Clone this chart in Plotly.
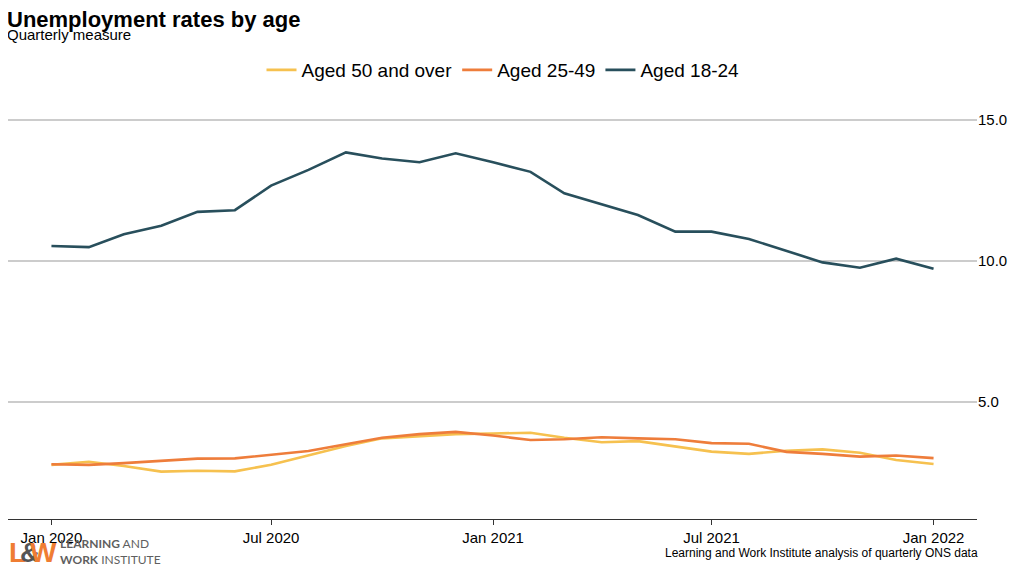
import plotly.graph_objects as go
import pandas as pd

months = pd.date_range("2020-01-01", "2022-01-01", freq="MS").strftime("%Y-%m-%d").tolist()

aged_50_over = [2.77, 2.88, 2.73, 2.53, 2.56, 2.54, 2.77, 3.10, 3.44, 3.71, 3.78, 3.86, 3.88,
                3.91, 3.73, 3.57, 3.61, 3.42, 3.24, 3.16, 3.27, 3.32, 3.20, 2.94, 2.80]
aged_25_49 = [2.79, 2.77, 2.83, 2.91, 2.99, 3.00, 3.14, 3.26, 3.50, 3.73, 3.86, 3.94, 3.81,
              3.65, 3.68, 3.75, 3.71, 3.68, 3.54, 3.52, 3.23, 3.16, 3.06, 3.10, 3.01]
aged_18_24 = [10.53, 10.49, 10.95, 11.25, 11.74, 11.80, 12.67, 13.23, 13.85, 13.63, 13.50, 13.82, 13.50,
              13.16, 12.40, 12.02, 11.63, 11.04, 11.04, 10.78, 10.37, 9.95, 9.76, 10.08, 9.72]

series = [("Aged 50 and over", aged_50_over, "#f6c14f"),
          ("Aged 25-49", aged_25_49, "#ee7d3b"),
          ("Aged 18-24", aged_18_24, "#284f5c")]

tick_vals = ["2020-01-01", "2020-07-01", "2021-01-01", "2021-07-01", "2022-01-01"]
tick_text = ["Jan 2020", "Jul 2020", "Jan 2021", "Jul 2021", "Jan 2022"]

fig = go.Figure()
for name, vals, col in series:
    fig.add_trace(go.Scatter(x=months, y=vals, name=name, mode="lines",
                             line=dict(color=col, width=2.6)))

font = "Liberation Sans, Arial, sans-serif"
fig.update_layout(
    width=1022, height=588,
    paper_bgcolor="white", plot_bgcolor="white",
    margin=dict(l=0, r=53, t=97, b=77),
    font=dict(family=font, color="#000000"),
    showlegend=True,
    legend=dict(orientation="h", x=(503 - 8) / 1022, xanchor="center", xref="container",
                y=1 - 62 / 588, yref="container", yanchor="middle",
                font=dict(size=19), itemwidth=30),
    xaxis=dict(type="date", range=["2019-11-26", "2022-02-06"], tickvals=tick_vals,
               ticktext=tick_text, showgrid=False, showline=True, linecolor="#333333",
               linewidth=1.2, ticks="outside", ticklen=5, tickcolor="#333333",
               tickfont=dict(size=15), zeroline=False),
    yaxis=dict(side="right", range=[0.85, 15.53], tickvals=[5, 10, 15], tickformat=".1f",
               showgrid=True, gridcolor="#cccccc", gridwidth=2, zeroline=False,
               showline=False, ticks="", tickfont=dict(size=15)),
)

H = 414.0  # plot height in px (screenshot coords 105..519)
def py(px):
    return (519 - px) / H

def pxx(px):
    return (px - 8) / 969.0

fig.add_annotation(text="<b>Unemployment rates by age</b>", xref="paper", yref="paper",
                   x=pxx(6), y=py(20), xanchor="left", yanchor="middle", showarrow=False,
                   borderpad=0, font=dict(size=22, family=font))
fig.add_annotation(text="Quarterly measure", xref="paper", yref="paper",
                   x=pxx(6), y=py(35), xanchor="left", yanchor="middle", showarrow=False,
                   borderpad=0, font=dict(size=15, family=font))
fig.add_annotation(text="Learning and Work Institute analysis of quarterly ONS data",
                   xref="paper", yref="paper", x=pxx(980), y=py(553), xanchor="right",
                   yanchor="middle", showarrow=False, font=dict(size=12, family=font))

# logo letters, tightly overlapped
logo_parts = [("L", "#ef7d33", 8), ("&amp;", "#555555", 19), ("W", "#ef7d33", 29)]
for txt, col, xpx in logo_parts:
    fig.add_annotation(text=f"<b>{txt}</b>", xref="paper", yref="paper", x=pxx(xpx), y=py(552),
                       xanchor="left", yanchor="middle", showarrow=False, borderpad=0,
                       font=dict(size=28, family=font, color=col))
fig.add_annotation(text="<b>LEARNING</b> AND<br><b>WORK</b> INSTITUTE", xref="paper",
                   yref="paper", x=pxx(58), y=py(551), xanchor="left", yanchor="middle",
                   align="left", showarrow=False,
                   font=dict(size=12, family="Lato, sans-serif", color="#5f5f5f"))

fig.write_html("out.html")
